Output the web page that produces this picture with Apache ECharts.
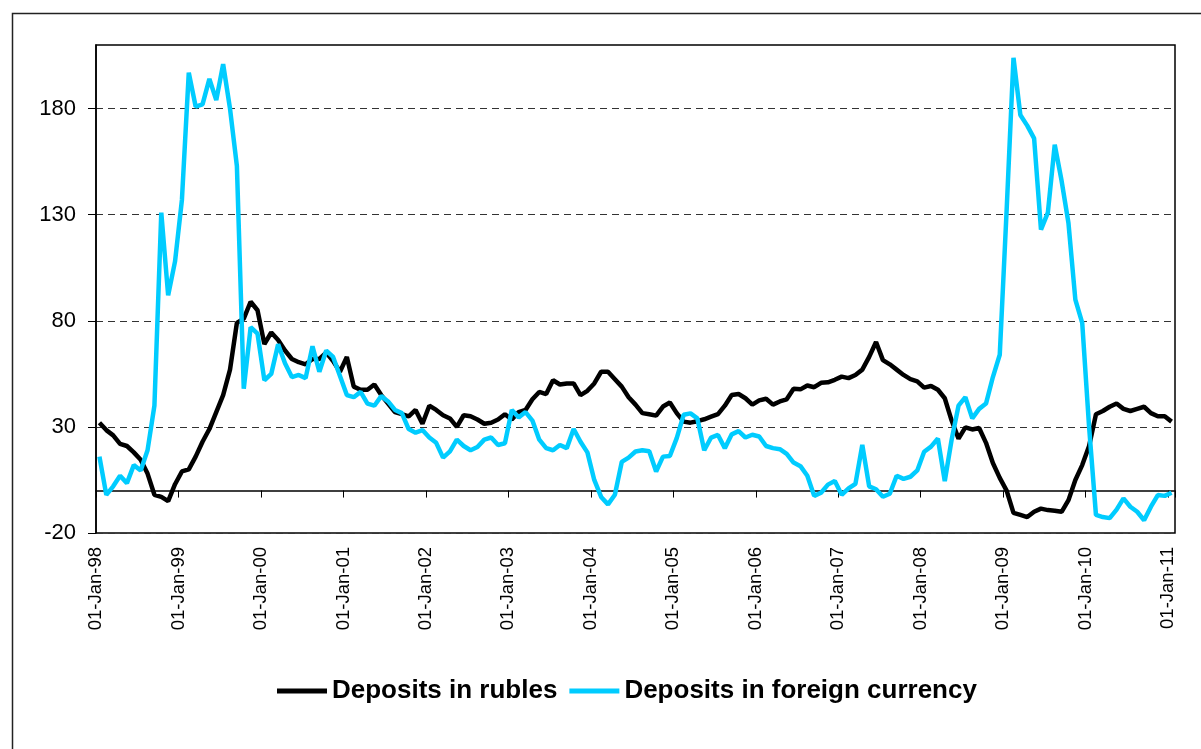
<!DOCTYPE html>
<html>
<head>
<meta charset="utf-8">
<script src="https://cdn.jsdelivr.net/npm/echarts@6/dist/echarts.min.js"></script>
<style>
html, body { margin: 0; padding: 0; background: #fff; }
#chart { width: 1201px; height: 749px; }
</style>
</head>
<body>
<div id="chart"></div>
<script>
// monthly points, Jan-98 .. Jan-11
var monthNames = ['Jan','Feb','Mar','Apr','May','Jun','Jul','Aug','Sep','Oct','Nov','Dec'];
var years = ['98','99','00','01','02','03','04','05','06','07','08','09','10','11'];

var rubles = [
  32, 28.5, 26, 22, 21, 18, 14.5, 8, -2, -3, -5, 3,
  9, 10, 16, 23, 29, 37, 45, 57, 79, 81, 89, 85,
  69, 74.5, 71, 66, 62, 60.5, 59.5, 62, 62, 65, 61, 56,
  63, 49, 47.5, 47.5, 50, 45, 41, 37, 36, 35, 38, 31.5,
  40, 38, 35.5, 34, 30, 35.5, 35, 33.5, 31.5, 32, 33.5, 36,
  33.5, 37, 38, 43, 46.5, 45.5, 52, 50, 50.5, 50.5, 45, 47,
  50.5, 56, 56, 52.5, 49, 44, 40.5, 36.5, 36, 35.3, 39.6, 41.5,
  36.5, 32.5, 32, 32.7, 33.6, 34.8, 36, 40, 45, 45.5, 43.5, 40.5,
  42.5, 43.3, 40.5, 42, 43, 48, 47.7, 49.5, 48.7, 50.8, 51, 52.2,
  53.7, 53, 54.5, 57, 63, 70, 61.5, 59.5, 57, 54.5, 52.5, 51.5,
  48.5, 49.3, 47.5, 43.5, 33, 24.5, 29.8, 28.8, 29.5, 22.5, 13, 6,
  0, -10.5, -11.5, -12.5, -10, -8.5, -9.2, -9.5, -10, -4.5, 5, 12,
  21, 36, 37.5, 39.5, 41, 38.5, 37.5, 38.5, 39.5, 36.5, 35, 35,
  32.5
];

var foreign = [
  16, -2, 2, 7, 3.5, 12, 9.5, 19, 40, 131, 92, 108,
  137, 197, 181, 182, 194, 184, 201, 180, 153, 48, 77, 74,
  52, 55, 69, 60, 53.5, 54.5, 53, 68, 56, 66, 63, 54,
  45, 44, 46.5, 41, 40, 44.5, 42, 38, 36.5, 29, 27.3, 28.5,
  25, 22.5, 15.5, 18.5, 24, 21, 19, 20.5, 24, 25, 21.5, 22.3,
  38, 34.5, 37, 33, 24, 20, 19, 21.5, 20, 29, 23, 18,
  5, -3, -6.5, -2, 13.5, 15.5, 18.4, 19, 18.5, 9, 16, 16.3,
  24.7, 35.7, 36.4, 34, 19, 25, 26.2, 20, 26.5, 28, 25, 26.3,
  25.5, 21, 20, 19.5, 17.3, 13.2, 11.5, 7, -2.5, -1, 2.8, 4.5,
  -2, 1, 3.2, 21.5, 2, 0.6, -2.9, -1.5, 7, 5.5, 6.5, 9.5,
  18.3, 20.7, 24.5, 4.5, 24, 40, 44, 34, 38.5, 41, 53.5, 64,
  132, 204, 177, 172, 166, 123, 131, 163, 146, 126, 90, 79,
  30, -11.5, -12.5, -13, -9, -3.7, -7.6, -10, -14, -7.6, -2.1, -2.5,
  -1
];

var yTicks = [-20, 30, 80, 130, 180];

// category labels: 01-Jan-98 ... 01-Feb-11 (axis runs one month past the last point)
var dates = [];
for (var y = 0; y < years.length; y++) {
  for (var m = 0; m < 12; m++) {
    dates.push('01-' + monthNames[m] + '-' + years[y]);
  }
}
dates = dates.slice(0, rubles.length + 1);
var pointDates = dates.slice(0, rubles.length);

var font = "'Liberation Sans', Arial, sans-serif";
var myChart = echarts.init(document.getElementById('chart'));

var option = {
  animation: false,
  backgroundColor: '#fff',
  textStyle: { fontFamily: font, color: '#000' },
  graphic: [{
    type: 'rect',
    left: 10,
    top: 11,
    shape: { width: 1210, height: 760 },
    style: { fill: 'none', stroke: '#222', lineWidth: 1.5 },
    z: -1
  }],
  grid: {
    left: 96,
    top: 45,
    width: 1079,
    height: 488,
    show: true,
    borderColor: '#000',
    borderWidth: 1.5,
    outerBoundsMode: 'none'
  },
  legend: {
    left: 272,
    top: 673,
    icon: 'rect',
    itemWidth: 50,
    itemHeight: 5,
    itemGap: 12,
    textStyle: { fontFamily: font, fontSize: 26, fontWeight: 'bold', color: '#000' },
    data: ['Deposits in rubles', 'Deposits in foreign currency']
  },
  xAxis: [
    {
      // zero line with yearly ticks
      type: 'category',
      data: pointDates,
      boundaryGap: true,
      position: 'bottom',
      axisLine: { show: true, onZero: true, lineStyle: { color: '#000', width: 1.5 } },
      axisTick: { show: true, interval: 11, length: 7, lineStyle: { color: '#000', width: 1 } },
      axisLabel: { show: false },
      splitLine: { show: false }
    },
    {
      // date labels along the bottom of the plot
      type: 'category',
      data: dates,
      boundaryGap: false,
      position: 'bottom',
      axisLine: { show: false, onZero: false },
      axisTick: { show: false },
      axisLabel: {
        interval: 11,
        rotate: 90,
        margin: 14,
        fontFamily: font,
        fontSize: 18.5,
        color: '#000'
      },
      splitLine: { show: false }
    }
  ],
  yAxis: {
    type: 'value',
    min: -20,
    max: 210,
    interval: 50,
    axisLine: { show: true, lineStyle: { color: '#000', width: 1.5 } },
    axisTick: { show: true, length: 8, customValues: yTicks, lineStyle: { color: '#000' } },
    axisLabel: {
      customValues: yTicks,
      margin: 20,
      fontFamily: font,
      fontSize: 22,
      color: '#000'
    },
    splitLine: { show: true, lineStyle: { color: '#333', width: 1, type: [7, 5] } }
  },
  series: [
    {
      name: 'Deposits in rubles',
      type: 'line',
      xAxisIndex: 0,
      data: rubles,
      symbol: 'none',
      lineStyle: { color: '#000', width: 4.5 },
      itemStyle: { color: '#000' }
    },
    {
      name: 'Deposits in foreign currency',
      type: 'line',
      xAxisIndex: 0,
      data: foreign,
      symbol: 'none',
      lineStyle: { color: '#00CCFF', width: 4.5 },
      itemStyle: { color: '#00CCFF' }
    }
  ]
};

myChart.setOption(option);
</script>
</body>
</html>
